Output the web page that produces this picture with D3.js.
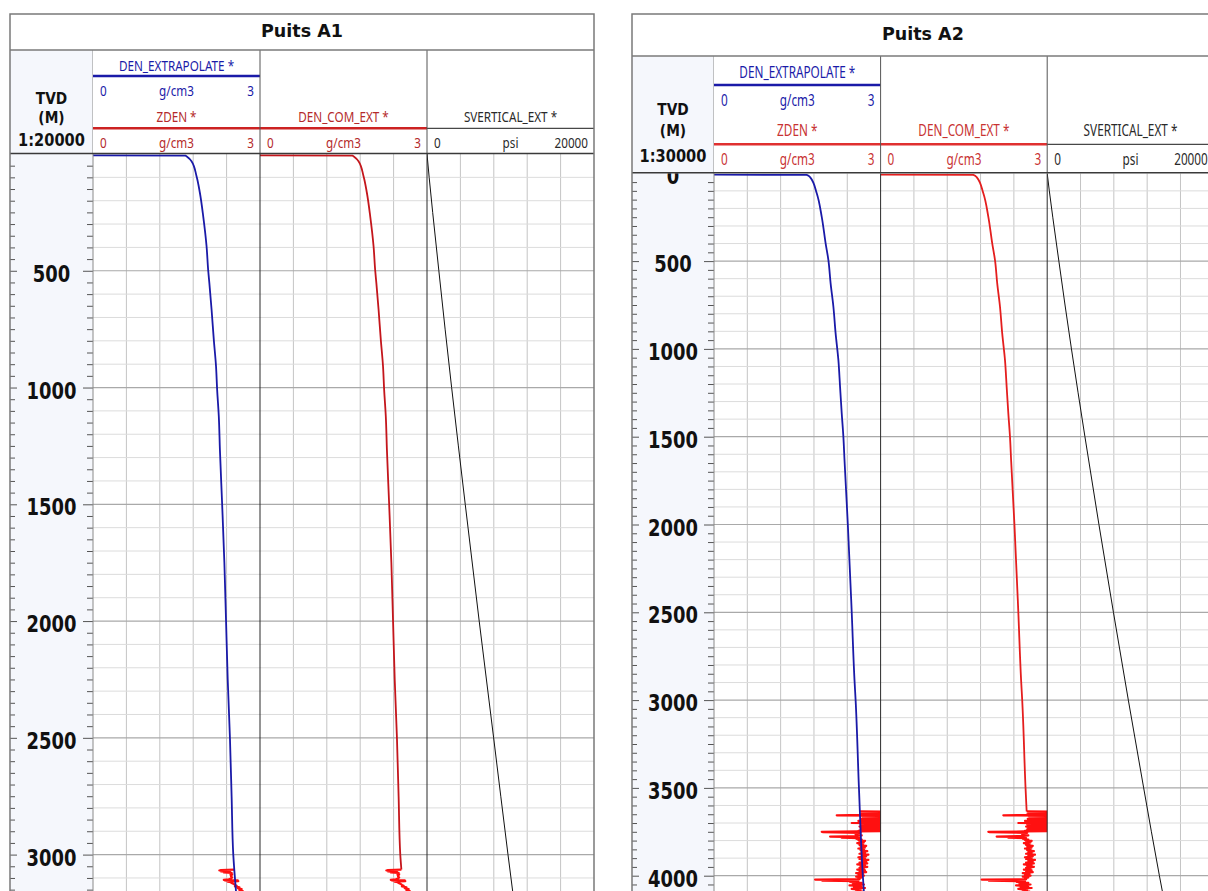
<!DOCTYPE html>
<html>
<head>
<meta charset="utf-8">
<script src="https://cdn.jsdelivr.net/npm/d3@7"></script>
<style>
  html, body { margin: 0; padding: 0; background: #ffffff; }
  svg { display: block; }
</style>
</head>
<body>
<svg id="chart" width="1208" height="891"></svg>
<script>
// ---------------- Data ----------------
const wellNames = ["Puits A1", "Puits A2"];
const depthScaleLabels = ["1:20000", "1:30000"];
const depthLabelsA1 = [500, 1000, 1500, 2000, 2500, 3000];
const depthLabelsA2 = [0, 500, 1000, 1500, 2000, 2500, 3000, 3500, 4000];

const curveNames = ["DEN_EXTRAPOLATE *", "ZDEN *", "DEN_COM_EXT *", "SVERTICAL_EXT *"];
const curveUnits = ["g/cm3", "g/cm3", "g/cm3", "psi"];
const curveMin = [0, 0, 0, 0];
const curveMax = [3, 3, 3, 20000];

// [TVD m, density g/cm3]
const denExtrapA1 = [
  [6, 0], [7, 1.66], [12, 1.69], [31, 1.77], [95, 1.86], [166, 1.92], [267, 1.98],
  [395, 2.04], [500, 2.07], [552, 2.09], [666, 2.13], [795, 2.17], [909, 2.21],
  [1009, 2.23], [1124, 2.26], [1267, 2.28], [1500, 2.32], [1750, 2.36], [2000, 2.39],
  [2250, 2.42], [2500, 2.46], [2750, 2.49], [3000, 2.52], [3160, 2.57]
];
const denExtrapA2 = [
  [8, 0], [9, 1.67], [22, 1.73], [114, 1.85], [248, 1.94], [399, 2.01], [494, 2.06],
  [627, 2.10], [760, 2.15], [912, 2.19], [1064, 2.24], [1216, 2.27], [1367, 2.30],
  [1501, 2.33], [1633, 2.35], [2000, 2.41], [2500, 2.48], [2886, 2.53], [3000, 2.55],
  [3500, 2.61], [4000, 2.68], [4095, 2.70]
];

// [TVD m, density g/cm3] measured bulk density
const zdenA1 = [
  [3064, 2.54], [3066, 2.30], [3068, 2.27], [3070, 2.42], [3072, 2.30], [3074, 2.46],
  [3076, 2.35], [3078, 2.49], [3081, 2.47], [3084, 2.50], [3087, 2.47], [3090, 2.49],
  [3094, 2.48], [3098, 2.50], [3102, 2.48], [3106, 2.44], [3108, 2.35], [3110, 2.60],
  [3112, 2.37], [3114, 2.61], [3116, 2.42], [3119, 2.50], [3122, 2.49], [3126, 2.53],
  [3130, 2.55], [3133, 2.58], [3136, 2.55], [3140, 2.63], [3144, 2.60], [3148, 2.67],
  [3152, 2.63], [3156, 2.69], [3160, 2.66]
];
const zdenA2 = [
  [3634, 2.63], [3636, 3.20], [3638, 2.72], [3640, 3.20], [3642, 2.70], [3644, 3.15],
  [3646, 2.66], [3648, 3.20], [3650, 2.64], [3652, 3.18], [3654, 2.70], [3656, 2.21],
  [3658, 3.20], [3660, 2.66], [3662, 3.20], [3664, 2.74], [3666, 3.12], [3668, 2.68],
  [3670, 3.20], [3672, 2.72], [3674, 3.16], [3676, 2.65], [3678, 3.20], [3680, 2.70],
  [3682, 3.20], [3684, 2.66], [3686, 3.14], [3688, 2.60], [3690, 3.20], [3692, 2.68],
  [3694, 3.20], [3696, 2.72], [3698, 3.18], [3700, 2.48], [3702, 3.20], [3704, 2.70],
  [3706, 3.12], [3708, 2.64], [3710, 3.20], [3712, 2.72], [3714, 3.20], [3716, 2.68],
  [3718, 3.16], [3720, 2.62], [3722, 3.20], [3724, 2.70], [3726, 3.20], [3728, 2.66],
  [3730, 3.14], [3732, 2.72], [3734, 3.20], [3736, 2.64], [3738, 3.18], [3740, 2.70],
  [3742, 3.20], [3744, 2.60], [3746, 3.10], [3748, 2.58], [3750, 1.94], [3752, 2.62],
  [3754, 1.96], [3756, 2.64], [3758, 2.58], [3762, 2.62], [3766, 2.55], [3770, 2.66],
  [3774, 2.58], [3777, 2.09], [3780, 2.60], [3783, 2.30], [3786, 2.62], [3790, 2.56],
  [3794, 2.66], [3798, 2.60], [3802, 2.72], [3806, 2.62], [3810, 2.70], [3815, 2.58],
  [3820, 2.68], [3825, 2.62], [3830, 2.74], [3835, 2.64], [3840, 2.72], [3845, 2.60],
  [3850, 2.70], [3855, 2.64], [3860, 2.76], [3865, 2.66], [3870, 2.72], [3875, 2.62],
  [3880, 2.78], [3885, 2.66], [3890, 2.74], [3895, 2.60], [3900, 2.72], [3905, 2.62],
  [3910, 2.78], [3915, 2.66], [3920, 2.74], [3925, 2.62], [3930, 2.76], [3935, 2.58],
  [3940, 2.72], [3945, 2.64], [3950, 2.76], [3955, 2.62], [3960, 2.70], [3965, 2.58],
  [3970, 2.72], [3975, 2.62], [3980, 2.74], [3985, 2.56], [3990, 2.68], [3995, 2.60],
  [4000, 2.70], [4005, 2.56], [4010, 2.66], [4015, 2.60], [4020, 2.62], [4022, 1.82],
  [4025, 2.58], [4028, 1.95], [4031, 2.60], [4035, 2.45], [4040, 2.66], [4045, 2.50],
  [4050, 2.70], [4055, 2.44], [4060, 2.66], [4065, 2.52], [4070, 2.72], [4075, 2.48],
  [4080, 2.64], [4085, 2.56], [4090, 2.68], [4095, 2.60]
];

// [TVD m, vertical stress psi]
const svA1 = [
  [0, 0], [100, 260], [250, 680], [500, 1420], [750, 2170], [1000, 2950], [1500, 4580],
  [2000, 6250], [2500, 7980], [3000, 9700], [3160, 10270]
];
const svA2 = [
  [0, 0], [100, 255], [250, 670], [500, 1400], [750, 2140], [1000, 2910], [1500, 4530],
  [2000, 6210], [2500, 7950], [3000, 9740], [3500, 11580], [4000, 13470], [4095, 13850]
];

// Composite density: extrapolated trend above the logged interval, measured below it
function composite(trend, logged) {
  const top = logged[0][0];
  return trend.filter(d => d[0] < top).concat(logged);
}

// ---------------- Layout ----------------
const wells = [
  {
    name: wellNames[0], scaleLabel: depthScaleLabels[0], labels: depthLabelsA1,
    trend: denExtrapA1, zden: zdenA1, sv: svA1,
    left: 10, top: 14, titleBottom: 50, headerBottom: 154, bottom: 897,
    depthW: 83, trackW: 167, refDepth: 3000, refY: 854.6,
    titleY: 36.5, tvdY: [103.5, 122.5, 145.5],
    rows: { name1: 70.5, line1: 76, scale1: 95.5, name2: 121.5, line2: 128.3, scale2: 147.5 },
    font: 15, sx: 0.78,
    blue: "#1a1aa8", redLine: "#cc2222", redText: "#b42a2a", comColor: "#c4161c"
  },
  {
    name: wellNames[1], scaleLabel: depthScaleLabels[1], labels: depthLabelsA2,
    trend: denExtrapA2, zden: zdenA2, sv: svA2,
    left: 632, top: 14, titleBottom: 56, headerBottom: 173.3, bottom: 897,
    depthW: 82, trackW: 166.6, refDepth: 4000, refY: 875.7,
    titleY: 39.5, tvdY: [115, 136, 161.5],
    rows: { name1: 78, line1: 85, scale1: 105.5, name2: 135.5, line2: 144.3, scale2: 165 },
    font: 15.5, sx: 0.76,
    blue: "#1a1aa8", redLine: "#e03030", redText: "#c83232", comColor: "#e41e1e"
  }
];

const svg = d3.select("#chart");
const defs = svg.append("defs");

// text squeezed horizontally, as drawn by the log viewer
function sText(g, x, y, str, o) {
  return g.append("text")
    .attr("transform", `translate(${x},${y}) scale(${o.sx},1)`)
    .attr("text-anchor", o.anchor || "middle")
    .attr("font-family", o.family || "'Noto Sans', 'DejaVu Sans', sans-serif")
    .attr("font-size", o.size)
    .attr("font-weight", o.weight || "normal")
    .attr("fill", o.fill || "#222")
    .text(str);
}

wells.forEach((w, wi) => {
  const g = svg.append("g");
  const tx = [0, 1, 2, 3].map(i => w.left + w.depthW + i * w.trackW);
  const right = tx[3];
  const y = d3.scaleLinear().domain([0, w.refDepth]).range([w.headerBottom, w.refY]);
  const maxDepth = y.invert(w.bottom);

  // ---- body ----
  g.append("rect").attr("x", tx[0]).attr("y", w.headerBottom)
    .attr("width", right - tx[0]).attr("height", w.bottom - w.headerBottom).attr("fill", "#fff");

  // vertical grid (5 divisions per track)
  for (let t = 0; t < 3; t++) {
    for (let k = 1; k < 5; k++) {
      const x = tx[t] + k * w.trackW / 5;
      g.append("line").attr("x1", x).attr("x2", x)
        .attr("y1", w.headerBottom).attr("y2", w.bottom)
        .attr("stroke", "#c4c4c4").attr("stroke-width", 1);
    }
  }
  // horizontal grid every 100 m, heavier every 500 m
  d3.range(100, maxDepth, 100).forEach(d => {
    const yy = y(d);
    g.append("line").attr("x1", tx[0]).attr("x2", right).attr("y1", yy).attr("y2", yy)
      .attr("stroke", d % 500 === 0 ? "#a9a9a9" : "#dcdcdc").attr("stroke-width", d % 500 === 0 ? 1.2 : 1);
  });

  // ---- curves ----
  const clipIds = [0, 1, 2].map(t => {
    const id = `clip-w${wi}-t${t}`;
    defs.append("clipPath").attr("id", id).append("rect")
      .attr("x", tx[t]).attr("y", w.headerBottom)
      .attr("width", w.trackW).attr("height", w.bottom - w.headerBottom);
    return id;
  });
  const xDen1 = d3.scaleLinear().domain([curveMin[0], curveMax[0]]).range([tx[0], tx[1]]);
  const xDen2 = d3.scaleLinear().domain([curveMin[2], curveMax[2]]).range([tx[1], tx[2]]);
  const xSv = d3.scaleLinear().domain([curveMin[3], curveMax[3]]).range([tx[2], tx[3]]);

  const smooth = (xs) => d3.line().x(d => xs(d[1])).y(d => y(d[0])).curve(d3.curveMonotoneY);
  const straight = (xs) => d3.line().x(d => xs(d[1])).y(d => y(d[0]));

  // track 1: ZDEN under the extrapolated trend
  const t1 = g.append("g").attr("clip-path", `url(#${clipIds[0]})`);
  t1.append("path").attr("d", straight(xDen1)(w.zden))
    .attr("fill", "none").attr("stroke", "#ff1010").attr("stroke-width", 2.2).attr("stroke-linejoin", "round");
  t1.append("path").attr("d", smooth(xDen1)(w.trend))
    .attr("fill", "none").attr("stroke", w.blue).attr("stroke-width", 1.8);

  // track 2: composite density
  const com = composite(w.trend, w.zden);
  const nTrend = com.length - w.zden.length;
  const t2 = g.append("g").attr("clip-path", `url(#${clipIds[1]})`);
  t2.append("path").attr("d", smooth(xDen2)(com.slice(0, nTrend + 1)))
    .attr("fill", "none").attr("stroke", w.comColor).attr("stroke-width", 1.8);
  t2.append("path").attr("d", straight(xDen2)(com.slice(nTrend)))
    .attr("fill", "none").attr("stroke", "#ff1010").attr("stroke-width", 2.2).attr("stroke-linejoin", "round");

  // track 3: vertical stress
  const t3 = g.append("g").attr("clip-path", `url(#${clipIds[2]})`);
  t3.append("path").attr("d", smooth(xSv)(w.sv))
    .attr("fill", "none").attr("stroke", "#111").attr("stroke-width", 1);

  // track separators in the body
  [tx[1], tx[2]].forEach(x => g.append("line").attr("x1", x).attr("x2", x)
    .attr("y1", w.headerBottom).attr("y2", w.bottom).attr("stroke", "#2a2a2a").attr("stroke-width", 1));

  // ---- depth column ----
  const dc = g.append("g");
  dc.append("rect").attr("x", w.left).attr("y", w.titleBottom)
    .attr("width", w.depthW).attr("height", w.bottom - w.titleBottom).attr("fill", "#f5f7fc");
  const depthClip = `clip-depth-${wi}`;
  defs.append("clipPath").attr("id", depthClip).append("rect")
    .attr("x", w.left).attr("y", w.headerBottom).attr("width", w.depthW).attr("height", w.bottom - w.headerBottom);

  const axR = d3.axisLeft(y).tickValues(d3.range(50, maxDepth, 50)).tickFormat("").tickSizeOuter(0);
  const axRg = dc.append("g").attr("transform", `translate(${tx[0]},0)`).call(axR);
  axRg.select(".domain").remove();
  axRg.selectAll(".tick line").attr("stroke", "#555")
    .attr("x2", d => d % 500 === 0 ? -10 : -6);
  const axL = d3.axisRight(y).tickValues(d3.range(50, maxDepth, 50)).tickFormat("").tickSizeOuter(0);
  const axLg = dc.append("g").attr("transform", `translate(${w.left},0)`).call(axL);
  axLg.select(".domain").remove();
  axLg.selectAll(".tick line").attr("stroke", "#555")
    .attr("x2", d => d % 500 === 0 ? 7 : 5);

  const labG = dc.append("g").attr("clip-path", `url(#${depthClip})`);
  const cx = w.left + w.depthW / 2;
  w.labels.forEach(d => {
    sText(labG, cx, y(d) + 11, String(d), {
      sx: 0.78, size: 23, weight: "bold", fill: "#111",
      family: "'DejaVu Sans', Verdana, sans-serif"
    });
  });
  dc.append("line").attr("x1", tx[0]).attr("x2", tx[0]).attr("y1", w.titleBottom).attr("y2", w.bottom)
    .attr("stroke", "#8a8a8a").attr("stroke-width", 1);

  // ---- header ----
  const hd = g.append("g");
  hd.append("rect").attr("x", tx[0]).attr("y", w.titleBottom)
    .attr("width", right - tx[0]).attr("height", w.headerBottom - w.titleBottom).attr("fill", "#fff");

  // depth column caption
  const tvdLines = ["TVD", "(M)", w.scaleLabel];
  tvdLines.forEach((s, i) => sText(hd, cx, w.tvdY[i], s, {
    sx: 0.86, size: i === 2 ? 17 : 16, weight: "bold", fill: "#111",
    family: "'DejaVu Sans', Verdana, sans-serif"
  }));

  const R = w.rows;
  const f = { sx: w.sx, size: w.font };
  function scaleRow(t, yy, color, unitIdx) {
    const l = tx[t], r = tx[t + 1];
    sText(hd, l + 7, yy, String(curveMin[unitIdx]), Object.assign({}, f, { anchor: "start", fill: color }));
    sText(hd, (l + r) / 2, yy, curveUnits[unitIdx], Object.assign({}, f, { fill: color }));
    sText(hd, r - 6, yy, String(curveMax[unitIdx]), Object.assign({}, f, { anchor: "end", fill: color }));
  }
  // track 1: DEN_EXTRAPOLATE (blue) above ZDEN (red)
  sText(hd, (tx[0] + tx[1]) / 2, R.name1, curveNames[0], Object.assign({}, f, { fill: w.blue }));
  hd.append("line").attr("x1", tx[0]).attr("x2", tx[1]).attr("y1", R.line1).attr("y2", R.line1)
    .attr("stroke", w.blue).attr("stroke-width", 2.5);
  scaleRow(0, R.scale1, w.blue, 0);
  sText(hd, (tx[0] + tx[1]) / 2, R.name2, curveNames[1], Object.assign({}, f, { fill: w.redText }));
  scaleRow(0, R.scale2, w.redText, 1);
  // track 2: DEN_COM_EXT
  sText(hd, (tx[1] + tx[2]) / 2, R.name2, curveNames[2], Object.assign({}, f, { fill: w.redText }));
  scaleRow(1, R.scale2, w.redText, 2);
  hd.append("line").attr("x1", tx[0]).attr("x2", tx[2]).attr("y1", R.line2).attr("y2", R.line2)
    .attr("stroke", w.redLine).attr("stroke-width", 2.5);
  // track 3: SVERTICAL_EXT
  sText(hd, (tx[2] + tx[3]) / 2, R.name2, curveNames[3], Object.assign({}, f, { fill: "#2a2a2a" }));
  scaleRow(2, R.scale2, "#2a2a2a", 3);
  hd.append("line").attr("x1", tx[2]).attr("x2", tx[3]).attr("y1", R.line2).attr("y2", R.line2)
    .attr("stroke", "#1a1a1a").attr("stroke-width", 1);

  // header separators
  [tx[1], tx[2]].forEach(x => hd.append("line").attr("x1", x).attr("x2", x)
    .attr("y1", w.titleBottom).attr("y2", w.headerBottom).attr("stroke", "#555").attr("stroke-width", 1));
  hd.append("line").attr("x1", w.left).attr("x2", right).attr("y1", w.headerBottom - 0.5).attr("y2", w.headerBottom - 0.5)
    .attr("stroke", "#3a3a3a").attr("stroke-width", 1.4);

  // ---- title row ----
  g.append("rect").attr("x", w.left).attr("y", w.top).attr("width", right - w.left)
    .attr("height", w.titleBottom - w.top).attr("fill", "#fff");
  g.append("text").attr("x", (w.left + right) / 2).attr("y", w.titleY)
    .attr("text-anchor", "middle").attr("font-family", "'DejaVu Sans', Verdana, sans-serif")
    .attr("font-size", 17.5).attr("font-weight", "bold").attr("fill", "#111").text(w.name);
  g.append("line").attr("x1", w.left).attr("x2", right).attr("y1", w.titleBottom).attr("y2", w.titleBottom)
    .attr("stroke", "#7a7a7a").attr("stroke-width", 1.5);

  // outer frame
  g.append("path")
    .attr("d", `M${w.left},${w.bottom}V${w.top}H${right}V${w.bottom}`)
    .attr("fill", "none").attr("stroke", "#7a7a7a").attr("stroke-width", 1.5);
});
</script>
</body>
</html>
